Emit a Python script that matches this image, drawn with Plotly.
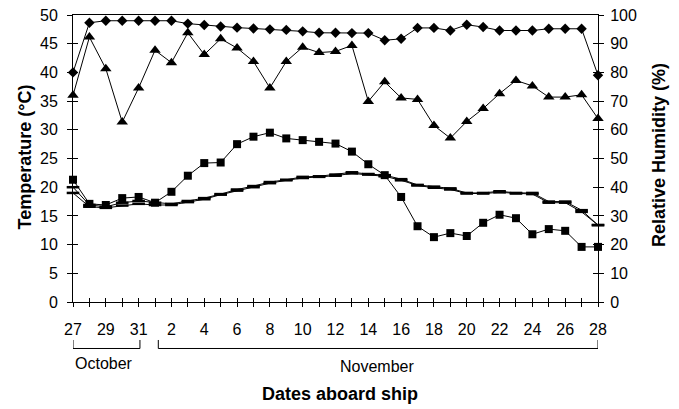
import plotly.graph_objects as go

# ---- data -------------------------------------------------------------
day_labels = ["27", "28", "29", "30", "31"] + [str(d) for d in range(1, 29)]
day_index = list(range(len(day_labels)))

rh_max = [80, 97.3, 98, 98, 98, 98, 98, 97, 96.5, 96, 95.6, 95.3, 95, 94.8, 94.3, 93.8,
          93.8, 93.7, 93.7, 91.2, 91.7, 95.5, 95.5, 94.6, 96.6, 95.8, 94.6, 94.6, 94.6,
          95.2, 95.2, 95.2, 79]
rh_min = [72, 92.3, 81.3, 62.7, 74.6, 87.7, 83.4, 93.8, 86.2, 91.7, 88.5, 83.8, 74.6, 83.8,
          88.8, 86.9, 87.3, 89.4, 69.9, 76.7, 71.1, 70.6, 61.5, 57.1, 62.9, 67.4, 72.6, 77.2,
          75.3, 71.4, 71.4, 72.2, 63.9]
temp_sq = [21.3, 17.1, 16.9, 18.1, 18.3, 17.3, 19.2, 22.0, 24.2, 24.3, 27.5, 28.8, 29.5, 28.5,
           28.2, 27.9, 27.6, 26.2, 24.0, 22.1, 18.3, 13.2, 11.3, 12.0, 11.5, 13.8, 15.2, 14.6,
           11.8, 12.7, 12.4, 9.6, 9.6]
temp_a = [20.0, 16.9, 16.6, 17.3, 17.6, 17.3, 17.1, 17.6, 18.1, 18.8, 19.6, 20.2, 20.9, 21.3,
          21.8, 21.9, 22.2, 22.6, 22.3, 22.1, 21.4, 20.4, 20.1, 19.8, 19.0, 19.0, 19.3, 19.0,
          19.0, 17.5, 17.5, 16.0, 13.4]
temp_b = [19.0, 16.6, 16.4, 16.8, 17.1, 16.9, 16.9, 17.4, 17.9, 18.7, 19.4, 20.0, 20.7, 21.2,
          21.6, 21.8, 22.0, 22.4, 22.2, 21.9, 21.2, 20.3, 19.9, 19.6, 18.9, 18.9, 19.1, 18.9,
          18.8, 17.3, 17.3, 15.7, 13.4]

FONT = "Arial, Liberation Sans, sans-serif"
tick_text = [lab if i % 2 == 0 else "" for i, lab in enumerate(day_labels)]

fig = go.Figure()

line_style = dict(color="black", width=1)

fig.add_trace(go.Scatter(x=day_index, y=temp_b, mode="lines+markers", line=line_style,
                         marker=dict(symbol="line-ew", size=9, line=dict(color="black", width=2.5)),
                         cliponaxis=False, showlegend=False))
fig.add_trace(go.Scatter(x=day_index, y=temp_a, mode="lines+markers", line=line_style,
                         marker=dict(symbol="line-ew", size=9, line=dict(color="black", width=2.5)),
                         cliponaxis=False, showlegend=False))
fig.add_trace(go.Scatter(x=day_index, y=temp_sq, mode="lines+markers", line=line_style,
                         marker=dict(symbol="square", size=8, color="black"),
                         cliponaxis=False, showlegend=False))
fig.add_trace(go.Scatter(x=day_index, y=rh_min, mode="lines+markers", line=line_style,
                         marker=dict(symbol="triangle-up", size=10, color="black"),
                         yaxis="y2", cliponaxis=False, showlegend=False))
fig.add_trace(go.Scatter(x=day_index, y=rh_max, mode="lines+markers", line=line_style,
                         marker=dict(symbol="diamond", size=8, color="black"),
                         yaxis="y2", cliponaxis=False, showlegend=False))

# dummy traces so that the overlay axes (used for the inner half of the crossing ticks) render
fig.add_trace(go.Scatter(x=[None], y=[None], xaxis="x2", yaxis="y", showlegend=False))
fig.add_trace(go.Scatter(x=[None], y=[None], xaxis="x", yaxis="y3", showlegend=False))
fig.add_trace(go.Scatter(x=[None], y=[None], xaxis="x", yaxis="y4", showlegend=False))

common = dict(showgrid=False, zeroline=False, tickcolor="black", tickwidth=1,
              linecolor="black", linewidth=1)
common_noline = {k: v for k, v in common.items() if k not in ("linecolor", "linewidth")}

# the page body adds an 8px offset, so the figure is sized/margined to compensate
fig.update_layout(
    width=671, height=401,
    margin=dict(l=65, r=81, t=7, b=107, autoexpand=False),
    paper_bgcolor="white", plot_bgcolor="white",
    font=dict(family=FONT, color="black", size=16),
    xaxis=dict(range=[0, 32], tickmode="array", tickvals=day_index, ticktext=tick_text,
               ticks="outside", ticklen=4, showline=True, mirror=True,
               tickfont=dict(size=16), ticklabelstandoff=9, ticklabeloverflow="allow",
               **common),
    xaxis2=dict(range=[0, 32], overlaying="x", anchor="y", side="bottom", tickmode="array",
                tickvals=day_index, ticks="inside", ticklen=4, showticklabels=False,
                showline=False, **common_noline),
    yaxis=dict(range=[0, 50], tickmode="linear", tick0=0, dtick=5, ticks="outside", ticklen=5,
               showline=True, tickfont=dict(size=16), ticklabelstandoff=6,
               ticklabeloverflow="allow", **common),
    yaxis2=dict(range=[0, 100], tickmode="linear", tick0=0, dtick=10, overlaying="y", side="right",
                ticks="outside", ticklen=5, showline=True, tickfont=dict(size=16),
                ticklabelstandoff=3, ticklabeloverflow="allow", **common),
    yaxis3=dict(range=[0, 50], tickmode="linear", tick0=0, dtick=5, overlaying="y", side="left",
                anchor="x", ticks="inside", ticklen=5, showticklabels=False, showline=False,
                **common_noline),
    yaxis4=dict(range=[0, 100], tickmode="linear", tick0=0, dtick=10, overlaying="y", side="right",
                anchor="x", ticks="inside", ticklen=5, showticklabels=False, showline=False,
                **common_noline),
)

# month brackets
y_top, y_bot = -0.1324, -0.162
fig.add_shape(type="path", xref="x", yref="paper",
              path=f"M 0 {y_top} L 0 {y_bot} L 4.08 {y_bot} L 4.08 {y_top}",
              line=dict(color="black", width=1))
fig.add_shape(type="path", xref="x", yref="paper",
              path=f"M 5.2 {y_top} L 5.2 {y_bot} L 32 {y_bot} L 32 {y_top}",
              line=dict(color="black", width=1))

fig.add_annotation(text="October", x=1.9, xref="x", y=-0.216, yref="paper",
                   showarrow=False, font=dict(size=16), xanchor="center", yanchor="middle")
fig.add_annotation(text="November", x=18.5, xref="x", y=-0.223, yref="paper",
                   showarrow=False, font=dict(size=16), xanchor="center", yanchor="middle")
fig.add_annotation(text="<b>Dates aboard ship</b>", x=0.508, xref="paper", y=-0.3206,
                   yref="paper", showarrow=False, font=dict(size=18),
                   xanchor="center", yanchor="middle")
fig.add_annotation(text="<b>Temperature (°C)</b>", x=-0.0914, xref="paper", y=0.5035,
                   yref="paper", showarrow=False, font=dict(size=18), textangle=-90,
                   xanchor="center", yanchor="middle")
fig.add_annotation(text="<b>Relative Humidity (%)</b>", x=1.116, xref="paper", y=0.512,
                   yref="paper", showarrow=False, font=dict(size=18), textangle=-90,
                   xanchor="center", yanchor="middle")

fig.write_html("out.html", config={"displayModeBar": False})
